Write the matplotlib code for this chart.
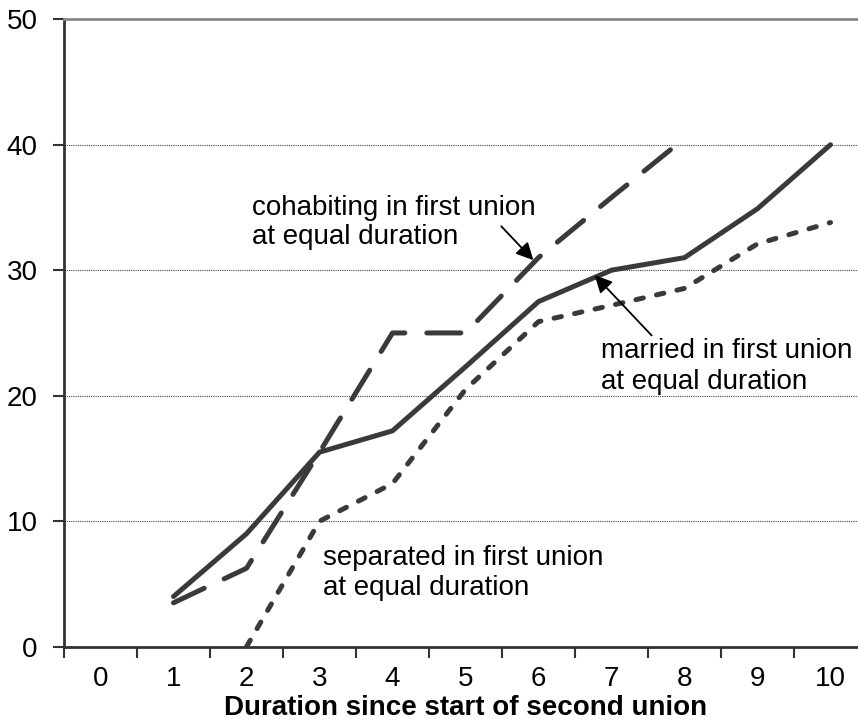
import numpy as np
import matplotlib
matplotlib.use('Agg')
from matplotlib import pyplot as plt

plt.rcParams['font.family'] = ['Liberation Sans', 'DejaVu Sans']

durations = [str(i) for i in range(11)]
married = [None, 4.0, 9.0, 15.5, 17.2, 22.3, 27.5, 30.0, 31.0, 34.9, 40.0]
cohabiting = [None, 3.5, 6.25, 15.5, 25.0, 25.0, 31.0, 35.8, 40.5, None, None]
separated = [None, None, 0.0, 10.0, 13.0, 20.5, 25.9, 27.2, 28.55, 32.1, 33.8]

line_col = '#3a3a3a'
fs = 20

fig = plt.figure(figsize=(8.58, 7.27), dpi=100)
ax = fig.add_axes([64/858, 80.3/727, 803/858, 627.5/727])

x = np.arange(len(durations))
def arr(v):
    return np.array([np.nan if a is None else a for a in v], dtype=float)

ax.plot(x, arr(married), color=line_col, lw=3.6, solid_capstyle='round',
        solid_joinstyle='miter', zorder=4)
ax.plot(x, arr(cohabiting), color=line_col, lw=3.6, dashes=(6.8, 4.4),
        dash_capstyle='round', zorder=3)
ax.plot(x, arr(separated), color=line_col, lw=3.6, dashes=(1.5, 2.7),
        dash_capstyle='round', zorder=3)

ax.set_xlim(-0.5, 10.5)
ax.set_ylim(0, 50)
ax.set_xticks(x)
ax.set_xticklabels(durations)
ax.set_xticks(np.arange(-0.5, 11, 1), minor=True)
ax.tick_params(axis='x', which='major', length=0, pad=14, labelsize=fs)
ax.tick_params(axis='x', which='minor', length=8, width=1.5, color='#333333')
ax.set_yticks(np.arange(0, 51, 10))
ax.tick_params(axis='y', length=8, width=1.5, color='#333333', pad=11, labelsize=fs)

for g in [10, 20, 30, 40]:
    ax.axhline(g, color='#444444', lw=0.8, linestyle=(0, (1, 1)), zorder=1)

for side in ['left', 'bottom']:
    ax.spines[side].set_color('#333333')
    ax.spines[side].set_linewidth(2)
ax.spines['top'].set_color('#888888')
ax.spines['top'].set_linewidth(2)
ax.spines['right'].set_color('#888888')
ax.spines['right'].set_linewidth(2)

ax.set_xlabel('Duration since start of second union', fontsize=fs,
              fontweight='bold', labelpad=2)

# annotations
ax.text(2.08, 34.4, 'cohabiting in first union', fontsize=fs, va='baseline')
ax.text(2.08, 32.1, 'at equal duration', fontsize=fs, va='baseline')
ax.text(6.86, 23.0, 'married in first union', fontsize=fs, va='baseline')
ax.text(6.86, 20.5, 'at equal duration', fontsize=fs, va='baseline')
ax.text(3.05, 6.5, 'separated in first union', fontsize=fs, va='baseline')
ax.text(3.05, 4.1, 'at equal duration', fontsize=fs, va='baseline')

arrow = dict(arrowstyle='-|>', color='black', lw=1.3, mutation_scale=26,
             shrinkA=0, shrinkB=0)
ax.annotate('', xy=(5.93, 30.8), xytext=(5.49, 33.5), arrowprops=arrow, zorder=6)
ax.annotate('', xy=(6.77, 29.6), xytext=(7.55, 24.8), arrowprops=arrow, zorder=6)

fig.savefig('out.png', dpi=100)
